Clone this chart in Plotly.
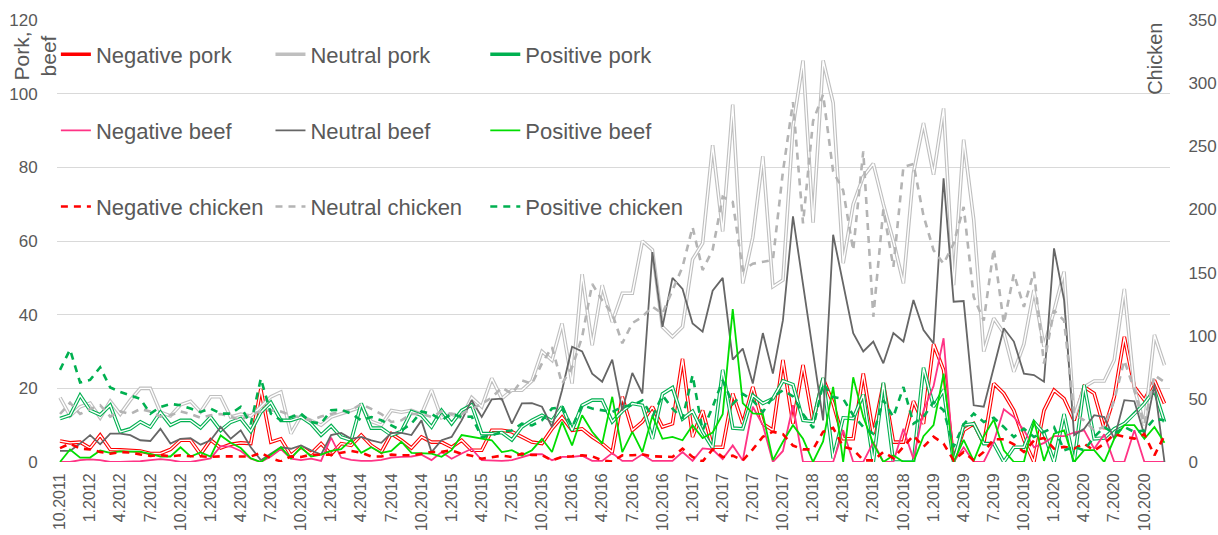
import plotly.graph_objects as go

# ---- categories (monthly, 10.2011 .. 12.2020) ----
MONTHS = []
for y in range(2011, 2021):
    for m in range(1, 13):
        if (y == 2011 and m < 10):
            continue
        MONTHS.append(f"{m}.{y}")
TICK_VALS = MONTHS[::3]
TICK_TEXT = MONTHS[::3]

# ---- left axis (pork, beef) ----
NEG_PORK = [5.7, 5.2, 5.4, 3.8, 7.3, 3.4, 3.3, 3.2, 3, 2.3,
            2.3, 3.4, 5.9, 5.9, 2.1, 6, 3.8, 4.8, 5.2, 5,
            19.8, 5.4, 6.3, 1.8, 4.1, 2.3, 5, 2.1, 5, 4.5,
            7.3, 4.5, 2.7, 7.7, 5.9, 3.8, 6.8, 5.4, 5.4, 4,
            5.9, 3.2, 3.2, 8.6, 8.6, 8.2, 6.8, 5.4, 5, 9,
            12.2, 8.6, 9, 6.8, 5, 2.7, 17.7, 8.6, 10.9, 15,
            9.5, 10.4, 28, 6.8, 14, 4, 4, 18.6, 10.4, 20.4,
            10.4, 8.6, 27.7, 10.4, 26.3, 10.9, 22.7, 15.9, 6.3, 6.3,
            24, 7.7, 21.3, 5.4, 5.4, 16.5, 10.4, 32, 25, 0.5,
            8.6, 10.4, 5, 21.3, 18.6, 14, 6, 0, 14, 19.5,
            17.2, 11.3, 20.4, 18.6, 9, 17.7, 34, 20.4, 16.8, 22.2,
            15.9]
NEU_PORK = [17.5, 12.5, 15, 16, 12, 16.5, 13, 16.8, 20, 20,
            13.5, 12.5, 15.5, 16.5, 13.6, 17.7, 17.7, 12.2, 13, 12.5,
            15, 17.7, 19, 7.7, 12.5, 11.3, 10, 12.2, 13, 14,
            15, 11, 10, 14, 13.5, 14, 13, 19.5, 12, 13,
            12, 17.5, 15, 22.7, 17.2, 19.5, 19.5, 22, 30, 27.6,
            37.6, 21.3, 51, 31.7, 48, 38, 45.8, 45.8, 60, 57.6,
            36.7, 34, 36.7, 55, 59.4, 86, 62.6, 97, 48.5, 61,
            83, 47.6, 49.4, 91, 109, 65, 109, 97.5, 54, 70,
            77.5, 81, 70, 60, 48.5, 78.5, 92, 78, 96, 48,
            87.5, 65.8, 30, 39, 35, 24.5, 32, 46.7, 31.3, 41,
            51.7, 12, 20.4, 22, 22, 27.7, 47, 20, 10, 34.5,
            26.3]
POS_PORK = [11.8, 12.7, 18.1, 14, 12.8, 15.4, 8.2, 9, 10.9, 9.5,
            13.5, 10, 11.3, 11.3, 9.3, 12.2, 8.6, 10.8, 11.8, 8.3,
            13.5, 16.2, 11.3, 11.3, 12.2, 10.4, 7.3, 9.8, 6.8, 5.9,
            15.9, 9.2, 9.2, 7.3, 8.3, 13.7, 12.7, 9.5, 14, 10.4,
            14, 15.5, 7.7, 7.7, 8, 6, 9.5, 11.3, 12.7, 11.2,
            15, 8.6, 15.4, 16.8, 16.8, 10.9, 13.8, 15.9, 15.4, 6.3,
            18.5, 20.2, 11.7, 13.8, 8.2, 3.8, 25, 9.2, 9, 18.1,
            15.9, 17.2, 22, 21, 11.3, 11, 22.8, 1, 12, 11.8,
            18.3, 0, 21.5, 0, 0, 0, 25.6, 15, 19.5, 0,
            10, 10.4, 5, 5, 0, 4, 4, 10.9, 7.7, 0,
            13, 0, 20.9, 6.3, 6.5, 9, 10.4, 13, 15.9, 19.5,
            10.9]
NEG_BEEF = [0, 0, 0.5, 0.7, 0.5, 0, 0, 0, 0.2, 0.5,
            0.8, 0.5, 0, 0, 0.6, 1.0, 4.3, 4.2, 3, 0.9,
            0, 1.5, 3.5, 0.9, 0.5, 0.9, 0.3, 6.6, 1.2, 0.6,
            0.3, 0.3, 0.6, 1.2, 1.4, 1.5, 2, 0.5, 2.7, 0.9,
            2.3, 3.6, 0.5, 0.3, 0.3, 0.5, 1.4, 2.1, 2.1, 0.5,
            1.4, 1.4, 1.7, 0.3, 0.3, 2.4, 0.3, 0.3, 2.1, 0.3,
            0.3, 0.3, 2.7, 0.3, 3.7, 3.4, 0.8, 4.5, 0.4, 15,
            10, 0, 3, 15.4, 0, 0, 0, 0, 8.6, 0,
            0, 5.4, 0, 0, 9, 0.8, 14, 20.6, 33.6, 0,
            4, 0, 0, 5.5, 14.3, 12.2, 8.6, 4, 5.2, 7,
            7, 8, 8.6, 3.6, 7.5, 0, 0, 8.6, 0, 0,
            0]
NEU_BEEF = [3, 3, 5, 7.3, 4.8, 7.7, 7.7, 7.3, 5.9, 5.7,
            9, 5, 6.3, 6.5, 4.7, 5.9, 9.5, 6.3, 8.6, 4,
            0.5, 2.3, 4, 3.6, 4.5, 3.2, 2, 7.3, 7.9, 6.3,
            6.8, 5.9, 5.2, 7.9, 7.9, 7.3, 11.3, 2.7, 5.9, 6.8,
            11.3, 16.8, 12.2, 17, 17.2, 10.4, 15.9, 16, 15, 9.5,
            19.5, 31.3, 30, 24, 21.8, 27.8, 14, 24.2, 18.6, 57,
            36.7, 50, 47, 37.6, 35.4, 46.5, 50, 27.8, 30.8, 21.3,
            35, 24, 38.5, 66.7, 48, 30, 11.3, 61.7, 48.5, 35,
            30, 32.7, 26.8, 35, 32.7, 44, 35.8, 32.2, 77, 43.5,
            43.7, 15.4, 15, 25.8, 36.3, 32.7, 24, 23.6, 21.8, 58,
            44, 7.3, 9, 12.7, 12.2, 6.3, 16.8, 16.5, 7.3, 21,
            0]
POS_BEEF = [0, 3.4, 1.2, 1.2, 3.1, 2.5, 2.9, 2.9, 2.8, 2.2,
            1.5, 1.5, 4, 1.5, 2.6, 1.5, 7.2, 5.2, 3.8, 1,
            0, 2, 4, 1, 4, 1.5, 2, 3, 3.5, 6,
            2.5, 4, 2.5, 3, 5.5, 2.5, 2.3, 2.3, 1.4, 3.2,
            7.3, 6.8, 6.3, 5.9, 2.7, 3.2, 1.8, 3.2, 6.3, 2.7,
            10.9, 4.5, 12.7, 8.2, 5, 17.7, 2.7, 8.2, 2.7, 12.5,
            6.3, 6.8, 5.9, 10, 6.5, 8, 13, 41.5, 16, 13.2,
            13, 0.5, 5.5, 10, 6.3, 0, 5.6, 20.4, 0, 23,
            12.2, 5, 0, 1.8, 0, 0, 7, 10, 24, 0,
            6, 0.3, 7, 11.5, 3.2, 0, 0, 11.3, 0.3, 7.7,
            8.6, 0, 3.2, 3.2, 0, 6.3, 10, 10, 6.3, 9.5,
            5.2]

# ---- right axis (chicken) ----
NEG_CHICKEN = [11, 14.5, 10.6, 10, 8, 6.6, 7.9, 7.5, 6, 4.8,
               5.5, 4.5, 5.3, 4.5, 4.5, 4, 4.5, 4.2, 4.4, 4.4,
               7.3, 3, 0.5, 4.4, 4, 5.8, 5.8, 5.8, 7.3, 8.8,
               7.3, 4.4, 4.4, 5.8, 5.3, 5.3, 6.5, 7.9, 8, 9.2,
               6.5, 5, 2.6, 3.5, 5, 4, 6.6, 5.5, 5.5, 1.3,
               4, 4.5, 5.3, 4.5, 1.3, 0.3, 5.3, 5.3, 6, 4.5,
               4, 4, 10.6, 4, 0.5, 10, 4, 5, 1.3, 10,
               20, 24, 22, 13, 10, 10, 24, 27, 12, 10,
               1.3, 1.3, 8, 3, 12, 21, 12, 20, 14.5, 1.3,
               7.9, 1.3, 8, 18, 18, 14, 8, 17, 19, 10.6,
               12, 10.6, 14.5, 9, 14.5, 22, 20, 18.5, 22, 5.3,
               21]
NEU_CHICKEN = [38, 47, 38, 42, 45, 36, 40, 38, 42, 40,
               36, 37, 40, 38, 35, 37, 38, 36, 33, 38,
               40, 41, 40, 37, 35, 33, 36, 38, 40, 41,
               46, 42, 38, 31.7, 33, 38, 38, 35.7, 40, 38,
               38, 42, 46, 51, 59, 54, 64.7, 62, 78, 91,
               62, 75, 99, 141, 128, 117.5, 94, 110, 115, 123,
               117.5, 136, 154.5, 186, 152, 168, 210, 206, 152, 157,
               158.5, 160, 230, 285, 189, 270, 291, 230, 215, 167.7,
               246, 115, 200, 154.5, 233.7, 236, 195, 167.7, 157, 173,
               202, 130.7, 112, 169, 109.6, 149, 122.8, 150.5, 78, 120,
               112, 38, 33, 25, 27.7, 49, 80.5, 57, 30, 68.7,
               63.4]
POS_CHICKEN = [73, 89, 63, 65, 75, 59, 55.5, 53, 50, 38.3,
               43.6, 46, 45, 42.3, 39.6, 42.3, 38.3, 38.3, 43.6, 30,
               66, 38.3, 33, 35.6, 38.3, 31.7, 30.4, 41, 41.5, 38.3,
               33, 35.6, 33, 29, 25, 30.4, 40, 38, 33, 38.3,
               35.6, 36, 19.8, 21, 23.8, 25, 30.4, 29, 33, 42.3,
               43.6, 27.7, 45, 42.3, 41, 39.6, 43.6, 45, 48.8, 35.7,
               52.8, 42.3, 34.3, 68.7, 25, 43.6, 64.7, 46, 54, 48.8,
               39.6, 51.5, 56.8, 52, 38, 27, 62, 51.5, 50, 37,
               27.7, 22.4, 49, 35.7, 59.4, 30.4, 35.7, 47.5, 41, 12,
               30, 38.3, 31.7, 35, 27.7, 19.8, 26.4, 19.8, 23.8, 27.7,
               9.2, 11.9, 9.2, 19.8, 27.7, 22.4, 27.7, 23.8, 25, 34.3,
               33]

RED = "#FF0000"
LGRAY = "#BFBFBF"
GREEN = "#00B050"
PINK = "#FF3385"
DGRAY = "#666666"
LIME = "#00DD00"
TEXT = "#595959"
CLEAR = "rgba(0,0,0,0)"

fig = go.Figure()

def double_line(name, vals, color, legend):
    fig.add_trace(go.Scatter(x=MONTHS, y=vals, mode="lines", name=name,
                             line=dict(color=color, width=3.6),
                             legend=legend, legendgroup=name, yaxis="y"))
    fig.add_trace(go.Scatter(x=MONTHS, y=vals, mode="lines", showlegend=False,
                             line=dict(color="white", width=1.4),
                             hoverinfo="skip", yaxis="y"))

def single_line(name, vals, color, legend, width=1.8, dash=None, axis="y"):
    fig.add_trace(go.Scatter(x=MONTHS, y=vals, mode="lines", name=name,
                             line=dict(color=color, width=width, dash=dash),
                             legend=legend, legendgroup=name, yaxis=axis))

double_line("Negative pork", NEG_PORK, RED, "legend")
double_line("Neutral pork", NEU_PORK, LGRAY, "legend2")
double_line("Positive pork", POS_PORK, GREEN, "legend3")
single_line("Negative beef", NEG_BEEF, PINK, "legend")
single_line("Neutral beef", NEU_BEEF, DGRAY, "legend2")
single_line("Positive beef", POS_BEEF, LIME, "legend3")
single_line("Negative chicken", NEG_CHICKEN, RED, "legend", width=2.6, dash="7px,6px", axis="y2")
single_line("Neutral chicken", NEU_CHICKEN, "#B4B4B4", "legend2", width=2.6, dash="7px,6px", axis="y2")
single_line("Positive chicken", POS_CHICKEN, GREEN, "legend3", width=2.6, dash="7px,6px", axis="y2")

legend_common = dict(yanchor="top", xanchor="left", y=0.9695, bgcolor=CLEAR,
                     font=dict(size=22, color=TEXT, family="Liberation Sans, Arial, sans-serif"),
                     traceorder="grouped", tracegroupgap=44.5, itemwidth=30)

fig.update_layout(
    width=1218, height=535,
    margin=dict(l=57, r=48, t=20, b=73),
    plot_bgcolor="white", paper_bgcolor="white",
    font=dict(family="Liberation Sans, Arial, sans-serif", color=TEXT),
    showlegend=True,
    legend=dict(x=-0.001, **legend_common),
    legend2=dict(x=0.1918, **legend_common),
    legend3=dict(x=0.3848, **legend_common),
    xaxis=dict(type="category", range=[-0.3, 110.55], tickmode="array",
               tickvals=TICK_VALS, ticktext=TICK_TEXT, tickangle=-90,
               tickfont=dict(size=16, color=TEXT), showgrid=False,
               showline=False, zeroline=False, ticks="outside", ticklen=4,
               tickcolor=CLEAR, automargin=False),
    yaxis=dict(range=[0, 120], dtick=20, gridcolor="#D9D9D9", gridwidth=1,
               tickfont=dict(size=17, color=TEXT), showline=False,
               zeroline=False, ticks="outside", ticklen=15, tickcolor=CLEAR,
               automargin=False),
    yaxis2=dict(overlaying="y", side="right", range=[0, 350], dtick=50,
                showgrid=False, zeroline=False, showline=False,
                tickfont=dict(size=17, color=TEXT), ticks="outside", ticklen=14,
                tickcolor=CLEAR, automargin=False),
    annotations=[
        dict(text="Pork,<br>beef", textangle=-90, xref="paper", yref="paper",
             x=-0.02, y=0.919, xanchor="center", yanchor="middle", showarrow=False,
             font=dict(size=21, color=TEXT)),
        dict(text="Chicken", textangle=-90, xref="paper", yref="paper",
             x=0.9865, y=0.912, xanchor="center", yanchor="middle", showarrow=False,
             font=dict(size=20, color=TEXT)),
    ],
)

fig.write_html("out.html")
